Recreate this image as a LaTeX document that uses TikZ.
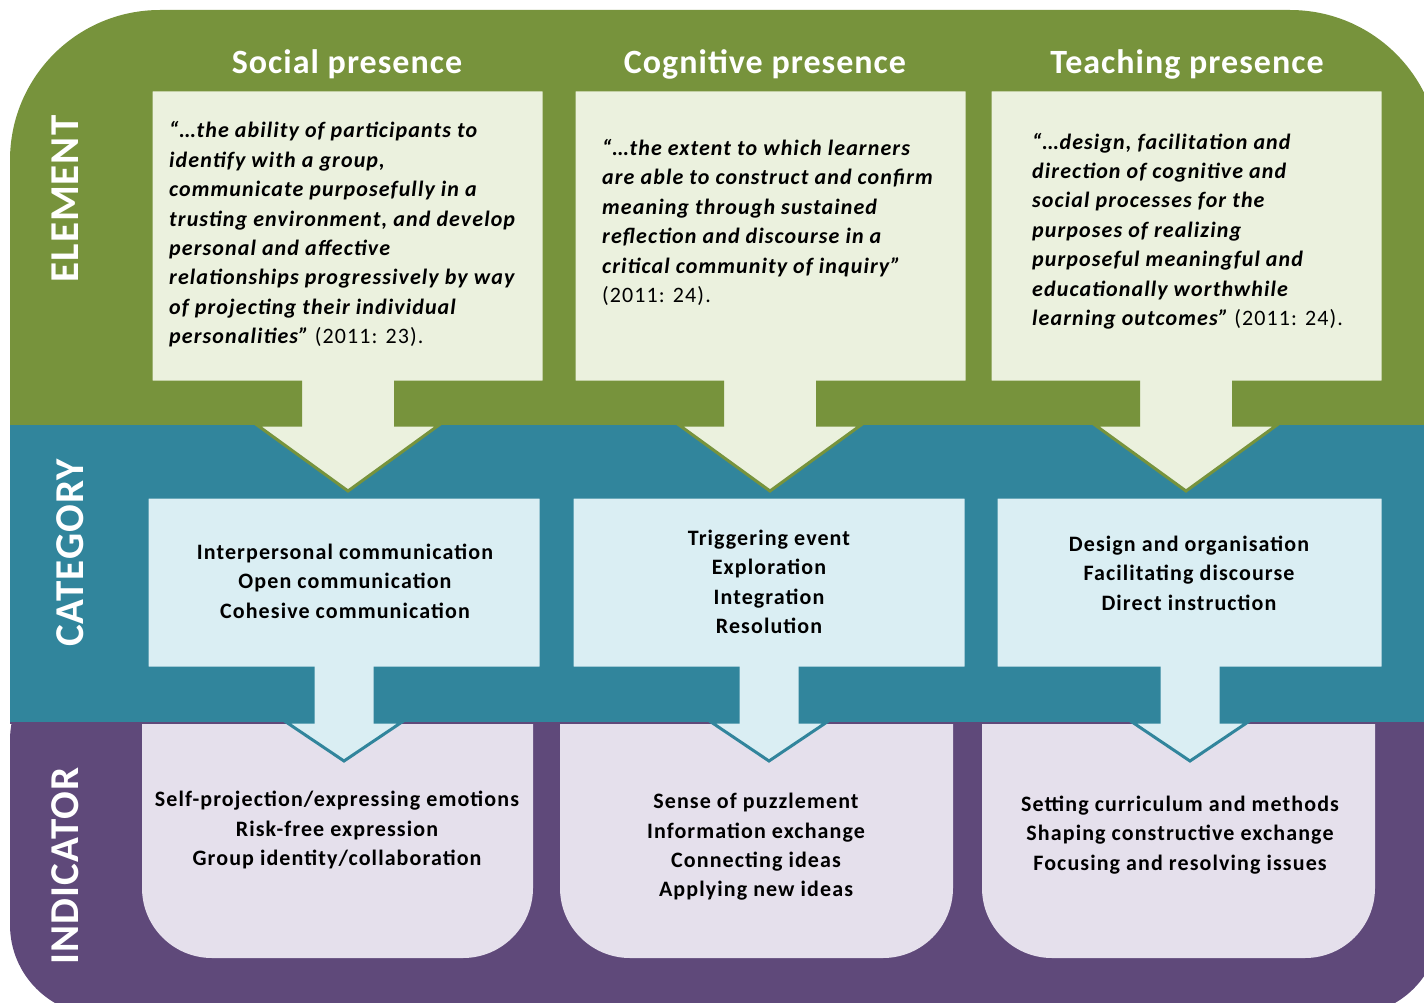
\documentclass[tikz,border=0pt]{standalone}
\usepackage{fontspec}
\setmainfont{Carlito}[LetterSpace=5]
\newfontfamily\headfont{Carlito}[LetterSpace=3]
\newfontfamily\sidefont{Carlito}[LetterSpace=2.5]
\definecolor{bandG}{HTML}{77933C}
\definecolor{bandT}{HTML}{31859C}
\definecolor{bandP}{HTML}{5F497A}
\definecolor{boxG}{HTML}{EBF1DE}
\definecolor{boxT}{HTML}{DAEEF3}
\definecolor{boxP}{HTML}{E5E0EC}
\tikzset{
  head/.style={font=\headfont\fontsize{34}{40}\selectfont\bfseries, text=white, inner sep=0pt},
  side/.style={font=\sidefont\fontsize{41}{48}\selectfont\bfseries, text=white, rotate=90, inner sep=0pt},
  quote/.style={font=\fontsize{22}{29.4}\selectfont\bfseries\itshape, align=left, anchor=west, inner sep=0pt},
  body/.style={font=\fontsize{22}{29.4}\selectfont\bfseries, align=center, inner sep=0pt},
  callG/.style={fill=boxG, draw=bandG, line width=3pt, line join=miter},
  callT/.style={fill=boxT, draw=bandT, line width=3pt, line join=miter},
}
\newcommand{\refup}[1]{{\upshape\mdseries #1}}
\begin{document}
\begin{tikzpicture}[x=1pt,y=-1pt]
\useasboundingbox (0,0) rectangle (1424,1003);
\begin{scope}
\clip (0,0) rectangle (1424,1003);
% bands
\fill[bandP, rounded corners=90pt] (10,650) rectangle (1440,1015);
\fill[bandG, rounded corners=150pt] (10,10) rectangle (1440,600);
% indicator boxes
\fill[boxP, rounded corners=70pt] (142,600) rectangle (533,958);
\fill[boxP, rounded corners=70pt] (560,600) rectangle (953,958);
\fill[boxP, rounded corners=70pt] (982,600) rectangle (1375,958);
\fill[bandT] (10,425) rectangle (1440,722);
\draw[bandP, line width=2pt] (10,723) -- (1440,723);
% category callouts
\foreach \xa/\xb/\c in {147/541/344, 572/966/769, 996/1383/1190}{
  \draw[callT] (\xa,497) -- (\xb,497) -- (\xb,668) -- (\c+31,668) -- (\c+31,722)
    -- (\c+58,722) -- (\c,761) -- (\c-58,722) -- (\c-31,722) -- (\c-31,668)
    -- (\xa,668) -- cycle;
}
% element callouts
\foreach \xa/\xb/\c in {151/544/348, 574/967/770, 990/1383/1186}{
  \draw[callG] (\xa,90) -- (\xb,90) -- (\xb,382) -- (\c+47.5,382) -- (\c+47.5,425)
    -- (\c+91,425) -- (\c,491) -- (\c-91,425) -- (\c-47.5,425) -- (\c-47.5,382)
    -- (\xa,382) -- cycle;
}
\end{scope}
% headers
\node[head] (hS) at (347,64) {Social presence};
\node[head] (hC) at (765,64) {Cognitive presence};
\node[head] (hT) at (1187,64) {Teaching presence};
% side labels
\node[side] (lE) at (65,199) {ELEMENT};
\node[side] (lC) at (70,553) {CATEGORY};
\node[side] (lI) at (65,866) {INDICATOR};
% quotes
\node[quote] (qS) at (169,234.5) {“…the ability of participants to\\identify with a group,\\communicate purposefully in a\\trusting environment, and develop\\personal and affective\\relationships progressively by way\\of projecting their individual\\personalities” \refup{(2011: 23).}};
\node[quote] (qC) at (602,222.5) {“…the extent to which learners\\are able to construct and confirm\\meaning through sustained\\reflection and discourse in a\\critical community of inquiry”\\\refup{(2011: 24).}};
\node[quote] (qT) at (1032,231) {“…design, facilitation and\\direction of cognitive and\\social processes for the\\purposes of realizing\\purposeful meaningful and\\educationally worthwhile\\learning outcomes” \refup{(2011: 24).}};
% categories
\node[body] (cS) at (345,581) {Interpersonal communication\\Open communication\\Cohesive communication};
\node[body] (cC) at (769,582) {Triggering event\\Exploration\\Integration\\Resolution};
\node[body] (cT) at (1189,573) {Design and organisation\\Facilitating discourse\\Direct instruction};
% indicators
\node[body] (iS) at (337,830) {Self-projection/expressing emotions\\Risk-free expression\\Group identity/collaboration};
\node[body] (iC) at (756,847) {Sense of puzzlement\\Information exchange\\Connecting ideas\\Applying new ideas};
\node[body] (iT) at (1180,835) {Setting curriculum and methods\\Shaping constructive exchange\\Focusing and resolving issues};
\end{tikzpicture}
\end{document}
